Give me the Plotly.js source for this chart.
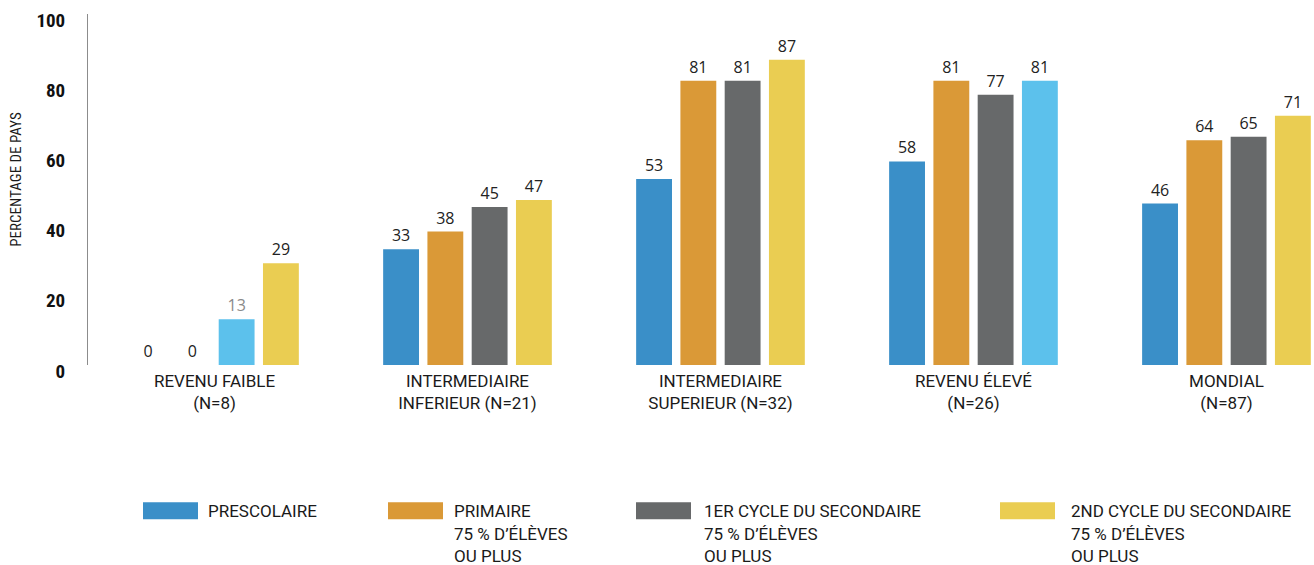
<!DOCTYPE html>
<html>
<head>
<meta charset="utf-8">
<script src="https://cdn.plot.ly/plotly-3.0.1.min.js"></script>
<style>html,body{margin:0;padding:0;background:#fff;}#chart{width:1314px;height:565px;}</style>
</head>
<body>
<div id="chart"></div>
<script>
// ---- data ----
const categories = [
  'REVENU FAIBLE<br>(N=8)',
  'INTERMEDIAIRE<br>INFERIEUR (N=21)',
  'INTERMEDIAIRE<br>SUPERIEUR (N=32)',
  'REVENU ÉLEVÉ<br>(N=26)',
  'MONDIAL<br>(N=87)'
];
const seriesNames = ['PRESCOLAIRE', 'PRIMAIRE', '1ER CYCLE DU SECONDAIRE', '2ND CYCLE DU SECONDAIRE'];
const seriesNotes = [[], ['75 % D’ÉLÈVES', 'OU PLUS'], ['75 % D’ÉLÈVES', 'OU PLUS'], ['75 % D’ÉLÈVES', 'OU PLUS']];
const prescolaire = [0, 33, 53, 58, 46];
const primaire = [0, 38, 81, 81, 64];
const secondaire1 = [13, 45, 81, 77, 65];
const secondaire2 = [29, 47, 87, 81, 71];
const yTicks = [0, 20, 40, 60, 80, 100];
const yTitle = 'PERCENTAGE DE PAYS';

// ---- styles ----
const seriesColors = ['#3a8fc8', '#da9937', '#67696a', '#eacd52'];
const highlightColor = '#5cc1ec';
// [seriesIndex, categoryIndex, labelColor]
const highlights = [[2, 0, '#8a8a8a'], [3, 3, '#222222']];
const NARROW = '"Liberation Sans Narrow", "Arial Narrow", "Roboto Condensed", "Liberation Sans", sans-serif';
const ROBOTO = 'Roboto, "Liberation Sans", sans-serif';
const LABELFONT = '"Open Sans", "Noto Sans", sans-serif';

const allValues = [prescolaire, primaire, secondaire1, secondaire2];
const traces = allValues.map((vals, s) => {
  const colors = vals.map(() => seriesColors[s]);
  const tcolors = vals.map(() => '#222222');
  highlights.forEach(h => { if (h[0] === s) { colors[h[1]] = highlightColor; tcolors[h[1]] = h[2]; } });
  return {
    type: 'bar',
    name: seriesNames[s],
    x: categories,
    y: vals,
    text: vals.map(v => String(v)),
    textposition: 'outside',
    cliponaxis: false,
    textfont: {family: LABELFONT, size: 16, color: tcolors},
    marker: {color: colors, line: {width: 0}},
    hoverinfo: 'x+y',
    showlegend: false
  };
});

// legend drawn as shapes + annotations (px -> paper)
const W = 1314, H = 565;
const mL = 88, mR = 0, mT = 14.4, mB = 200;
const pw = W - mL - mR, ph = H - mT - mB;
const px2x = p => (p - mL) / pw;
const py2y = p => (H - mB - p) / ph;
const legendLeft = [143, 388, 636, 1000];
const legendTextLeft = [206, 452, 702, 1069];
const lineTops = [499, 522, 544];
const swW = 55, swTop = 502, swH = 17;
const shapes = [], annotations = [];
seriesNames.forEach((n, i) => {
  shapes.push({type: 'rect', xref: 'paper', yref: 'paper',
    x0: px2x(legendLeft[i]), x1: px2x(legendLeft[i] + swW),
    y0: py2y(swTop + swH), y1: py2y(swTop), fillcolor: seriesColors[i], line: {width: 0}});
  [n].concat(seriesNotes[i]).forEach((line, j) => {
    annotations.push({xref: 'paper', yref: 'paper', x: px2x(legendTextLeft[i]), y: py2y(lineTops[j]),
      xanchor: 'left', yanchor: 'top', align: 'left', showarrow: false,
      text: line,
      font: {family: ROBOTO, size: 17, color: '#1a1a1a'}});
  });
});
annotations.push({xref: 'paper', yref: 'paper', x: px2x(16), y: py2y(180),
  xanchor: 'center', yanchor: 'middle', textangle: -90, showarrow: false,
  text: yTitle, font: {family: NARROW, size: 15, color: '#1a1a1a'}});

const layout = {
  width: W, height: H,
  margin: {l: mL, r: mR, t: mT, b: mB, pad: 0},
  paper_bgcolor: '#ffffff', plot_bgcolor: '#ffffff',
  barmode: 'group',
  bargap: 0.30,
  bargroupgap: 0.19,
  showlegend: false,
  xaxis: {
    type: 'category',
    range: [-0.5, 4.346],
    showline: false, showgrid: false, zeroline: false,
    ticks: '', ticklabelstandoff: 4,
    tickfont: {family: ROBOTO, size: 17, color: '#1a1a1a'}
  },
  yaxis: {
    range: [0, 100],
    tickvals: yTicks,
    ticktext: yTicks.map(String),
    showline: true, linecolor: '#8c8c8c', linewidth: 1,
    showgrid: false, zeroline: false,
    ticks: '', ticklabelstandoff: 18, ticklabelshift: 6,
    tickfont: {family: NARROW, size: 19, color: '#111111', weight: 'bold'}
  },
  shapes: shapes,
  annotations: annotations
};

Plotly.newPlot('chart', traces, layout, {displayModeBar: false, staticPlot: true});
</script>
</body>
</html>
